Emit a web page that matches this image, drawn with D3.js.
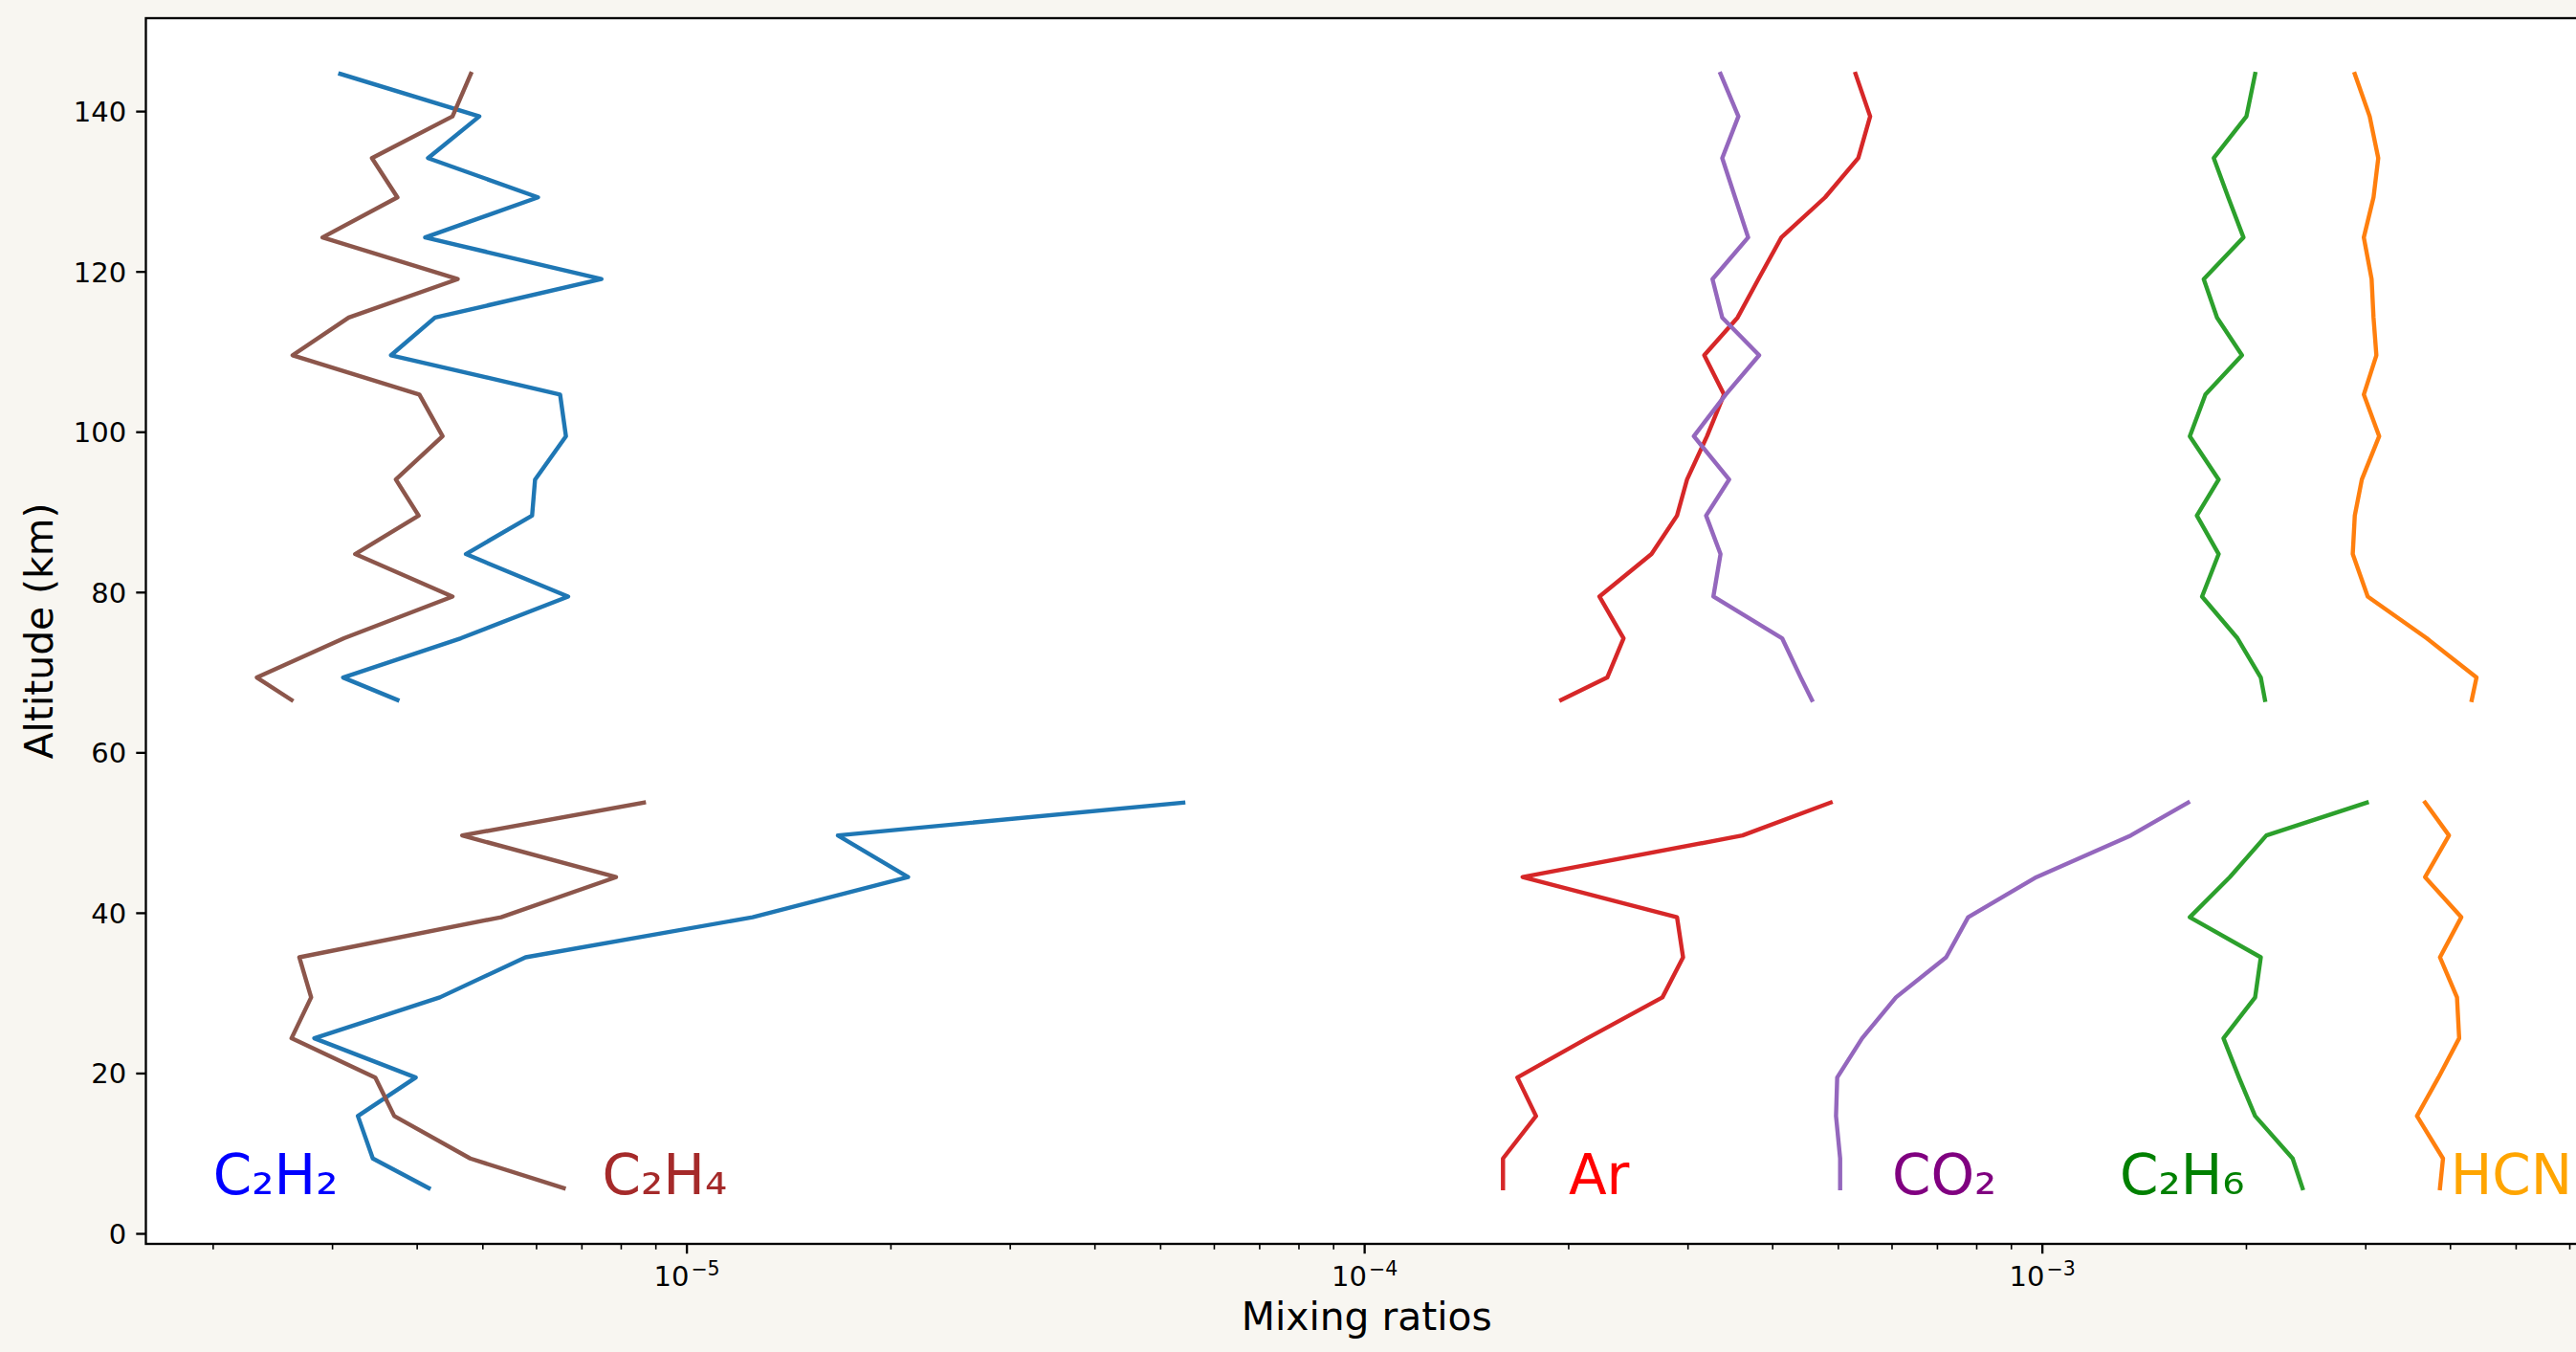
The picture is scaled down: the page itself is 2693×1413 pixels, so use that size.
<!DOCTYPE html>
<html>
<head>
<meta charset="utf-8">
<script src="https://cdn.jsdelivr.net/npm/d3@7"></script>
<style>
  html, body { margin: 0; padding: 0; background: #f8f6f1; }
  svg { display: block; font-family: "DejaVu Sans", sans-serif; }
</style>
</head>
<body>
<svg width="2693" height="1413"></svg>
<script>
// altitude grids (km), upper and lower profiles
var altUpper = [144.7, 139.4, 134.2, 129.3, 124.3, 119.1, 114.3, 109.6, 104.7, 99.5, 94.1, 89.6, 84.8, 79.5, 74.3, 69.4, 66.6];
var altLower = [53.8, 49.7, 44.5, 39.5, 34.5, 29.5, 24.4, 19.5, 14.7, 9.4, 5.7];

// mixing ratios
var c2h2Upper = [3.08e-6, 4.94e-6, 4.15e-6, 6.03e-6, 4.11e-6, 7.48e-6, 4.25e-6, 3.66e-6, 6.50e-6, 6.63e-6, 5.97e-6, 5.91e-6, 4.72e-6, 6.68e-6, 4.64e-6, 3.11e-6, 3.74e-6];
var c2h2Lower = [5.40e-5, 1.67e-5, 2.12e-5, 1.25e-5, 5.78e-6, 4.32e-6, 2.82e-6, 3.98e-6, 3.27e-6, 3.44e-6, 4.16e-6];
var c2h4Upper = [4.80e-6, 4.51e-6, 3.43e-6, 3.74e-6, 2.90e-6, 4.59e-6, 3.17e-6, 2.62e-6, 4.03e-6, 4.36e-6, 3.72e-6, 4.02e-6, 3.24e-6, 4.51e-6, 3.12e-6, 2.32e-6, 2.61e-6];
var c2h4Lower = [8.64e-6, 4.66e-6, 7.86e-6, 5.32e-6, 2.68e-6, 2.79e-6, 2.61e-6, 3.47e-6, 3.70e-6, 4.79e-6, 6.58e-6];
var arUpper = [5.30e-4, 5.57e-4, 5.35e-4, 4.78e-4, 4.12e-4, 3.81e-4, 3.55e-4, 3.17e-4, 3.39e-4, 3.20e-4, 2.99e-4, 2.89e-4, 2.65e-4, 2.22e-4, 2.41e-4, 2.28e-4, 1.95e-4];
var arLower = [4.87e-4, 3.61e-4, 1.71e-4, 2.89e-4, 2.95e-4, 2.75e-4, 2.13e-4, 1.68e-4, 1.79e-4, 1.60e-4, 1.60e-4];
var co2Upper = [3.35e-4, 3.56e-4, 3.37e-4, 3.52e-4, 3.68e-4, 3.26e-4, 3.37e-4, 3.82e-4, 3.41e-4, 3.06e-4, 3.45e-4, 3.19e-4, 3.35e-4, 3.27e-4, 4.13e-4, 4.40e-4, 4.57e-4];
var co2Lower = [1.64e-3, 1.35e-3, 9.80e-4, 7.77e-4, 7.21e-4, 6.08e-4, 5.42e-4, 4.98e-4, 4.96e-4, 5.03e-4, 5.03e-4];
var c2h6Upper = [2.06e-3, 2.00e-3, 1.79e-3, 1.88e-3, 1.98e-3, 1.73e-3, 1.81e-3, 1.97e-3, 1.74e-3, 1.65e-3, 1.82e-3, 1.69e-3, 1.82e-3, 1.72e-3, 1.94e-3, 2.10e-3, 2.13e-3];
var c2h6Lower = [3.01e-3, 2.14e-3, 1.89e-3, 1.65e-3, 2.10e-3, 2.06e-3, 1.85e-3, 1.95e-3, 2.06e-3, 2.34e-3, 2.42e-3];
var hcnUpper = [2.89e-3, 3.04e-3, 3.13e-3, 3.08e-3, 2.98e-3, 3.06e-3, 3.08e-3, 3.11e-3, 2.98e-3, 3.14e-3, 2.96e-3, 2.89e-3, 2.87e-3, 3.02e-3, 3.69e-3, 4.37e-3, 4.30e-3];
var hcnLower = [3.67e-3, 3.98e-3, 3.67e-3, 4.15e-3, 3.86e-3, 4.09e-3, 4.12e-3, 3.84e-3, 3.57e-3, 3.90e-3, 3.86e-3];

// text labels placed in data coords
var labelNames = ["C\u2082H\u2082", "C\u2082H\u2084", "Ar", "CO\u2082", "C\u2082H\u2086", "HCN"];
var labelX = [2e-6, 7.5e-6, 2e-4, 6e-4, 1.3e-3, 4e-3];
var labelAlt = 5;
var labelColors = ["blue", "brown", "red", "purple", "green", "orange"];

var yTicks = [0, 20, 40, 60, 80, 100, 120, 140];
var xMajor = [1e-5, 1e-4, 1e-3];
var xMajorExp = ["\u22125", "\u22124", "\u22123"];

var series = [
    { up: c2h2Upper, low: c2h2Lower, color: "#1f77b4" },
    { up: hcnUpper, low: hcnLower, color: "#ff7f0e" },
    { up: c2h6Upper, low: c2h6Lower, color: "#2ca02c" },
    { up: arUpper, low: arLower, color: "#d62728" },
    { up: co2Upper, low: co2Lower, color: "#9467bd" },
    { up: c2h4Upper, low: c2h4Lower, color: "#8c564b" }
];

var svg = d3.select("svg");
var mLeft = 152.5, mTop = 19, width = 2552.5, height = 1281;

// matplotlib-like 5% margins
var allX = [], allY = altUpper.concat(altLower);
series.forEach(function (s) { allX = allX.concat(s.up, s.low); });
var lx0 = Math.log10(d3.min(allX)), lx1 = Math.log10(d3.max(allX));
var mx = (lx1 - lx0) * 0.05;
var y0 = d3.min(allY), y1 = d3.max(allY), my = (y1 - y0) * 0.05;

var x = d3.scaleLog().domain([Math.pow(10, lx0 - mx), Math.pow(10, lx1 + mx)]).range([mLeft, mLeft + width]);
var y = d3.scaleLinear().domain([y0 - my, y1 + my]).range([mTop + height, mTop]);

svg.append("rect").attr("width", 2693).attr("height", 1413).attr("fill", "#f8f6f1");
svg.append("rect").attr("x", mLeft).attr("y", mTop).attr("width", width).attr("height", height).attr("fill", "white");

svg.append("clipPath").attr("id", "clip")
    .append("rect").attr("x", mLeft).attr("y", mTop).attr("width", width).attr("height", height);

var line = d3.line()
    .x(function (d) { return x(d[0]); })
    .y(function (d) { return y(d[1]); });

var plot = svg.append("g").attr("clip-path", "url(#clip)");
series.forEach(function (s) {
    [[s.up, altUpper], [s.low, altLower]].forEach(function (p) {
        plot.append("path")
            .datum(d3.zip(p[0], p[1]))
            .attr("d", line)
            .attr("fill", "none")
            .attr("stroke", s.color)
            .attr("stroke-width", 4.4)
            .attr("stroke-linejoin", "round")
            .attr("stroke-linecap", "square");
    });
});

// species labels
labelNames.forEach(function (n, i) {
    plot.append("text")
        .attr("x", x(labelX[i]))
        .attr("y", y(labelAlt))
        .attr("fill", labelColors[i])
        .attr("font-size", 58)
        .text(n);
});

// spines
var spine = svg.append("g").attr("stroke", "black").attr("stroke-width", 2.33).attr("fill", "none");
spine.append("rect").attr("x", mLeft).attr("y", mTop).attr("width", width).attr("height", height);

// y ticks
var yt = svg.append("g");
yTicks.forEach(function (t) {
    yt.append("line").attr("x1", mLeft - 10.2).attr("x2", mLeft)
        .attr("y1", y(t)).attr("y2", y(t)).attr("stroke", "black").attr("stroke-width", 2.33);
    yt.append("text").attr("x", mLeft - 20.4).attr("y", y(t)).attr("dy", "0.36em")
        .attr("text-anchor", "end").attr("font-size", 29).text(t);
});

// x minor ticks
var dom = x.domain();
var minors = [];
for (var e = -7; e <= -2; e++) {
    for (var m = 2; m <= 9; m++) {
        var v = m * Math.pow(10, e);
        if (v >= dom[0] && v <= dom[1]) minors.push(v);
    }
}
var xt = svg.append("g");
minors.forEach(function (v) {
    xt.append("line").attr("x1", x(v)).attr("x2", x(v))
        .attr("y1", mTop + height).attr("y2", mTop + height + 5.8)
        .attr("stroke", "black").attr("stroke-width", 1.6);
});
xMajor.forEach(function (v, i) {
    xt.append("line").attr("x1", x(v)).attr("x2", x(v))
        .attr("y1", mTop + height).attr("y2", mTop + height + 10.2)
        .attr("stroke", "black").attr("stroke-width", 2.33);
    var t = xt.append("text").attr("x", x(v)).attr("y", 1343.5)
        .attr("text-anchor", "middle").attr("font-size", 29);
    t.append("tspan").text("10");
    t.append("tspan").attr("dx", 2).attr("dy", -11).attr("font-size", 20.5).text(xMajorExp[i]);
});

// axis labels
svg.append("text").attr("x", mLeft + width / 2).attr("y", 1390)
    .attr("text-anchor", "middle").attr("font-size", 40.8).text("Mixing ratios");
svg.append("text").attr("transform", "translate(55," + (mTop + height / 2) + ") rotate(-90)")
    .attr("text-anchor", "middle").attr("font-size", 40.8).text("Altitude (km)");
</script>
</body>
</html>
